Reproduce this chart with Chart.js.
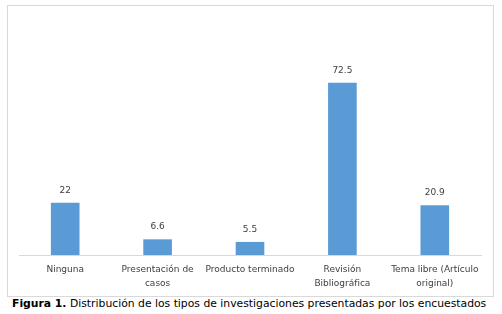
<!DOCTYPE html>
<html lang="es">
  <head>
    <meta charset="UTF-8" />
    <title>Figura 1</title>
    <script src="https://cdn.jsdelivr.net/npm/chart.js"></script>
    <style>
      body { margin: 0; width: 502px; height: 314px; background: #fff; position: relative; overflow: hidden; }
      #box { position: absolute; left: 7px; top: 5px; width: 487px; height: 292px; box-sizing: border-box; border: 1px solid #d9d9d9; }
      #chart { display: block; }
      #caption { position: absolute; left: 12px; top: 297px; font: 10.8px "DejaVu Sans", sans-serif; color: #000; white-space: nowrap; }
    </style>
  </head>
  <body>
    <div id="box"><canvas id="chart" width="485" height="290"></canvas></div>
    <div id="caption"><b>Figura 1.</b> Distribución de los tipos de investigaciones presentadas por los encuestados</div>
    <script>
      const categories = [
        "Ninguna",
        ["Presentación de", "casos"],
        "Producto terminado",
        ["Revisión", "Bibliográfica"],
        ["Tema libre (Artículo", "original)"],
      ];
      const values = [22, 6.6, 5.5, 72.5, 20.9];

      // values above the bars
      const barLabels = {
        id: "barLabels",
        afterDatasetsDraw(chart) {
          const ctx = chart.ctx;
          ctx.save();
          ctx.font = "9px 'DejaVu Sans', sans-serif";
          ctx.fillStyle = "#404040";
          ctx.textAlign = "center";
          ctx.textBaseline = "bottom";
          chart.getDatasetMeta(0).data.forEach((bar, i) => {
            ctx.fillText(values[i], bar.x, bar.y - 8);
          });
          ctx.restore();
        },
      };

      new Chart(document.getElementById("chart"), {
        type: "bar",
        data: {
          labels: categories,
          datasets: [
            {
              data: values,
              backgroundColor: "#5b9bd5",
              categoryPercentage: 1,
              barPercentage: 0.31,
            },
          ],
        },
        options: {
          responsive: false,
          animation: false,
          layout: { padding: { left: 11, right: 12, top: 59, bottom: 0 } },
          plugins: { legend: { display: false }, tooltip: { enabled: false } },
          scales: {
            x: {
              grid: { display: false },
              border: { color: "#d9d9d9" },
              afterFit(scale) {
                scale.height = 41;
              },
              ticks: {
                color: "#404040",
                font: { family: "'DejaVu Sans', sans-serif", size: 9, lineHeight: 1.5 },
                maxRotation: 0,
                autoSkip: false,
                padding: 0,
              },
            },
            y: { display: false, min: 0, max: 80 },
          },
        },
        plugins: [barLabels],
      });
    </script>
  </body>
</html>
